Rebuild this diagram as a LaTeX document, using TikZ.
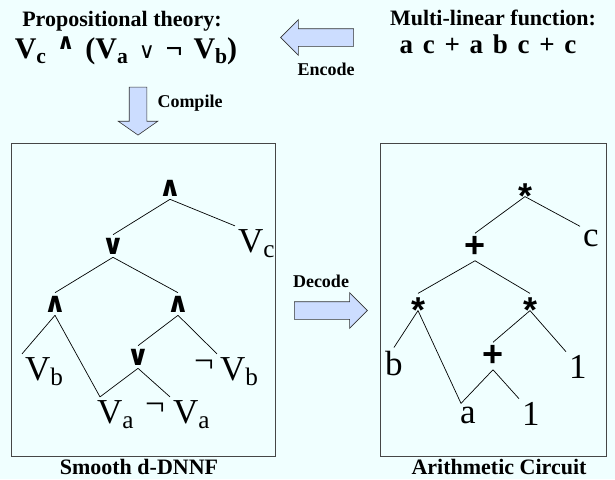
\documentclass[tikz,border=0pt]{standalone}
\usepackage{fontspec}
\setmainfont{Liberation Serif}
\newfontfamily\logicfont{DejaVu Sans}
\newfontfamily\arithfont{Liberation Sans}
\usetikzlibrary{shapes.arrows,positioning}
\definecolor{paper}{RGB}{240,255,255}
\definecolor{arrowfill}{RGB}{204,221,255}
\definecolor{frame}{RGB}{70,70,70}
\newcommand\vsub[1]{\raisebox{-0.17em}{\scalebox{0.72}{#1}}}
\newcommand\lowstar{\raisebox{-0.42em}[0.3em][0pt]{*}}
\newcommand\caretand{\raisebox{0.3em}{\logicfont\bfseries\fontsize{22}{22}\selectfont ∧}}
\tikzset{
  head/.style={font=\fontsize{22}{22}\selectfont\bfseries, inner sep=0pt, anchor=base},
  formula/.style={font=\fontsize{30}{30}\selectfont\bfseries, inner sep=0pt, anchor=base},
  tag/.style={font=\fontsize{18}{18}\selectfont\bfseries, inner sep=0pt, anchor=base},
  caption/.style={font=\fontsize{22}{22}\selectfont\bfseries, inner sep=0pt, anchor=base},
  panel/.style={draw=frame, line width=0.8pt},
  leaf/.style={font=\fontsize{35}{35}\selectfont, inner sep=3pt, anchor=base west},
  negsign/.style={font=\fontsize{35}{35}\selectfont, inner sep=0pt, anchor=north east, yshift=-6pt},
  logic/.style={font=\logicfont\bfseries\fontsize{28}{28}\selectfont, inner sep=3pt},
  arith/.style={font=\arithfont\bfseries\fontsize{36}{36}\selectfont, inner sep=3pt},
  wire/.style={draw=black, line width=0.7pt},
  blockarrow/.style={single arrow, draw=black!80, fill=arrowfill, line width=0.6pt,
    inner sep=8.5pt, single arrow head extend=9pt}
}

\begin{document}
\begin{tikzpicture}[x=1pt,y=-1pt]
\fill[paper] (0,0) rectangle (615,479);
\useasboundingbox (0,0) rectangle (615,479);

% Headings and formulas
\node[head] (propt) at (122,26) {Propositional theory:};
\node[formula] (theory) at (126,58) {\spaceskip=0.36em V\vsub{c} \caretand{} (V\vsub{a} {\logicfont\mdseries\fontsize{22}{22}\selectfont ∨} ¬ V\vsub{b})};
\node[head] (mlt) at (493,25) {Multi-linear function:};
\node[formula, font=\fontsize{27}{27}\selectfont\bfseries] (poly) at (488,53) {\spaceskip=0.36em a c + a b c + c};

% Block arrows
\node[blockarrow, minimum height=73pt, rotate=180] (encode) at (321.5,37.5) {};
\node[tag] (encodetxt) at (326,75) {Encode};
\node[blockarrow, minimum height=48pt, rotate=-90, single arrow head extend=11pt, single arrow tip angle=110] (compile) at (138,108) {};
\node[tag] (compiletxt) at (190,107) {Compile};
\node[blockarrow, minimum height=73pt] (decode) at (326.5,310.5) {};
\node[tag] (decodetxt) at (321,287) {Decode};

% Panels
\node[panel, minimum width=264pt, minimum height=313pt] (dnnf) at (143,299.5) {};
\node[caption] (dnnftxt) at (139,474) {Smooth d-DNNF};
\node[panel, minimum width=226pt, minimum height=313pt] (circ) at (493,299.5) {};
\node[caption] (circtxt) at (499,474) {Arithmetic Circuit};

% d-DNNF nodes
\node[logic] (and0) at (170,188) {∧};
\node[logic] (or0) at (113,246) {∨};
\node[leaf] (vc) at (235,252) {V\vsub{c}};
\node[logic] (and1) at (55,304) {∧};
\node[logic] (and2) at (178,304) {∧};
\node[leaf] (vb) at (22,380) {V\vsub{b}};
\node[logic] (or1) at (138,357) {∨};
\node[leaf, label={[negsign, xshift=-3pt]north west:¬}] (nvb) at (217,380) {V\vsub{b}};
\node[leaf] (va) at (94,423) {V\vsub{a}};
\node[leaf, label={[negsign, xshift=-5pt]north west:¬}] (nva) at (170,423) {V\vsub{a}};

% d-DNNF edges
\draw[wire] (and0.south) -- (or0.north);
\draw[wire] (and0.south) -- (vc.north west);
\draw[wire] (or0.south) -- (and1.north);
\draw[wire] (or0.south) -- (and2.north);
\draw[wire] (and1.south) -- (vb.north west);
\draw[wire] (and1.south) -- ([xshift=6pt]va.north west);
\draw[wire] (and2.south) -- (or1.north);
\draw[wire] (and2.south) -- (nvb.north west);
\draw[wire] (or1.south) -- ([xshift=6pt]va.north west);
\draw[wire] (or1.south) -- (nva.north west);

% Arithmetic circuit nodes
\node[arith] (mul0) at (525,188) {\lowstar};
\node[arith] (add0) at (475,247) {+};
\node[leaf] (c) at (580,246) {c};
\node[arith] (mul1) at (418,302) {\lowstar};
\node[arith] (mul2) at (530,302) {\lowstar};
\node[leaf] (b) at (382,375) {b};
\node[arith] (add1) at (493,356) {+};
\node[leaf] (one1) at (566,378) {1};
\node[leaf] (a) at (457,423) {a};
\node[leaf] (one2) at (519,425) {1};

% Arithmetic circuit edges
\draw[wire] (mul0.south) -- (add0.north);
\draw[wire] (mul0.south) -- (c.north west);
\draw[wire] (add0.south) -- (mul1.north);
\draw[wire] (add0.south) -- (mul2.north);
\draw[wire] (mul1.south) -- (b.north);
\draw[wire] (mul1.south) -- ([xshift=4pt]a.north west);
\draw[wire] (mul2.south) -- (add1.north);
\draw[wire] (mul2.south) -- (one1.north west);
\draw[wire] (add1.south) -- ([xshift=4pt]a.north west);
\draw[wire] (add1.south) -- (one2.north west);

\end{tikzpicture}
\end{document}
